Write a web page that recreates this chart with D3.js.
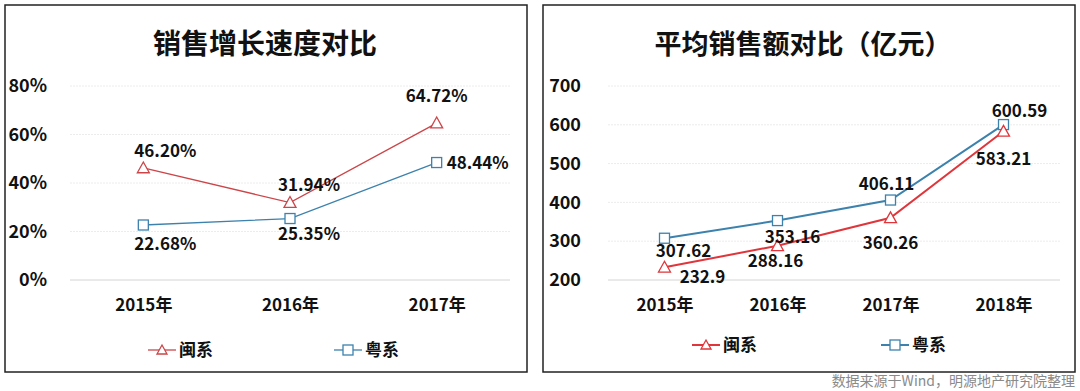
<!DOCTYPE html>
<html>
<head>
<meta charset="utf-8">
<script src="https://cdn.jsdelivr.net/npm/d3@7"></script>
<style>
  body { margin: 0; background: #fff; }
  svg { display: block; font-family: "Noto Sans CJK SC", "Noto Sans", sans-serif; }
</style>
</head>
<body>
<script>
// left chart data
const yearsA = ['2015年', '2016年', '2017年']
const minA = [46.20, 31.94, 64.72]
const yueA = [22.68, 25.35, 48.44]
const ticksA = [0, 20, 40, 60, 80]

// right chart data
const yearsB = ['2015年', '2016年', '2017年', '2018年']
const minB = [232.9, 288.16, 360.26, 583.21]
const yueB = [307.62, 353.16, 406.11, 600.59]
const ticksB = [200, 300, 400, 500, 600, 700]

const seriesNames = ['闽系', '粤系']

const w = 1080
const h = 391
const blue = '#3c82ad'

const svg = d3.select('body').append('svg')
  .attr('width', w)
  .attr('height', h)

function trianglePath (x, y, s) {
  return `M${x},${y - s}L${x + s},${y + s * 0.8}L${x - s},${y + s * 0.8}Z`
}

function drawPanel (cfg) {
  const g = svg.append('g')

  g.append('rect')
    .attr('x', cfg.box[0]).attr('y', cfg.box[1])
    .attr('width', cfg.box[2]).attr('height', cfg.box[3])
    .attr('fill', '#fff').attr('stroke', '#222').attr('stroke-width', 1.5)

  g.append('text')
    .attr('x', cfg.titleX).attr('y', 54)
    .attr('text-anchor', 'middle')
    .attr('font-size', cfg.titleSize).attr('font-weight', 700)
    .attr('fill', '#111')
    .text(cfg.title)

  const x = d3.scalePoint().domain(cfg.years).range(cfg.xr).padding(0.5)
  const y = d3.scaleLinear().domain(cfg.ydom).range([280, 86])

  // grid
  g.selectAll('.grid')
    .data(cfg.ticks)
    .enter().append('line')
    .attr('x1', cfg.xr[0]).attr('x2', cfg.xr[1])
    .attr('y1', d => y(d)).attr('y2', d => y(d))
    .attr('stroke', (d, i) => i === 0 ? '#d4d4d4' : '#ececec')
    .attr('stroke-width', 1)
    .attr('stroke-dasharray', (d, i) => i === 0 ? null : '2,1')

  const yAxis = d3.axisLeft(y).tickValues(cfg.ticks).tickSize(0).tickFormat(cfg.fmt)
  g.append('g')
    .attr('transform', `translate(${cfg.yLabelX}, 0)`)
    .call(yAxis)
    .call(a => a.select('.domain').remove())
    .selectAll('text')
    .attr('font-size', 18).attr('font-weight', 700).attr('fill', '#111')
    .attr('font-family', '"Noto Sans CJK SC", sans-serif')

  const xAxis = d3.axisBottom(x).tickSize(0)
  g.append('g')
    .attr('transform', 'translate(0, 296)')
    .call(xAxis)
    .call(a => a.select('.domain').remove())
    .selectAll('text')
    .attr('font-size', 17).attr('font-weight', 700).attr('fill', '#111')
    .attr('font-family', '"Noto Sans CJK SC", sans-serif')

  const line = d3.line().x((d, i) => x(cfg.years[i])).y(d => y(d))

  // blue series
  g.append('path').datum(cfg.yue)
    .attr('d', line).attr('fill', 'none')
    .attr('stroke', blue).attr('stroke-width', cfg.lw)
  // red series
  g.append('path').datum(cfg.min)
    .attr('d', line).attr('fill', 'none')
    .attr('stroke', cfg.red).attr('stroke-width', cfg.lw)

  g.selectAll('.sq').data(cfg.yue).enter().append('rect')
    .attr('x', (d, i) => x(cfg.years[i]) - 5).attr('y', d => y(d) - 5)
    .attr('width', 10).attr('height', 10)
    .attr('fill', '#fff').attr('stroke', blue).attr('stroke-width', 1.3)

  g.selectAll('.tri').data(cfg.min).enter().append('path')
    .attr('d', (d, i) => trianglePath(x(cfg.years[i]), y(d), 6))
    .attr('fill', '#fff').attr('stroke', cfg.red).attr('stroke-width', 1.3)

  // data labels
  const lab = (vals, offs) => {
    g.selectAll(null).data(vals).enter().append('text')
      .attr('x', (d, i) => x(cfg.years[i]) + offs[i][0])
      .attr('y', (d, i) => y(d) + offs[i][1])
      .attr('text-anchor', (d, i) => offs[i][2] || 'middle')
      .attr('font-size', 17).attr('font-weight', 700).attr('fill', '#111')
      .text(d => cfg.lfmt(d))
  }
  lab(cfg.min, cfg.minOff)
  lab(cfg.yue, cfg.yueOff)

  // legend
  const leg = [
    { name: seriesNames[0], x: cfg.legX[0], color: cfg.red, shape: 'tri' },
    { name: seriesNames[1], x: cfg.legX[1], color: blue, shape: 'sq' }
  ]
  leg.forEach(d => {
    const ly = cfg.legY
    g.append('line').attr('x1', d.x).attr('x2', d.x + 28)
      .attr('y1', ly).attr('y2', ly)
      .attr('stroke', d.color).attr('stroke-width', cfg.lw)
    if (d.shape === 'tri') {
      g.append('path').attr('d', trianglePath(d.x + 14, ly, 5))
        .attr('fill', '#fff').attr('stroke', d.color).attr('stroke-width', 1.3)
    } else {
      g.append('rect').attr('x', d.x + 9).attr('y', ly - 5)
        .attr('width', 10).attr('height', 10)
        .attr('fill', '#fff').attr('stroke', d.color).attr('stroke-width', 1.3)
    }
    g.append('text').attr('x', d.x + 31).attr('y', ly + 6)
      .attr('font-size', 17).attr('font-weight', 700).attr('fill', '#111')
      .text(d.name)
  })
}

drawPanel({
  box: [5, 5, 522, 367],
  title: '销售增长速度对比',
  titleX: 265,
  titleSize: 28,
  years: yearsA,
  min: minA,
  yue: yueA,
  ticks: ticksA,
  ydom: [0, 80],
  xr: [70, 510],
  yLabelX: 50,
  fmt: d => d + '%',
  lfmt: d => d.toFixed(2) + '%',
  red: '#cc4548',
  lw: 1.3,
  minOff: [[22, -11], [19, -12], [0, -21]],
  yueOff: [[22, 25], [19, 21], [10, 6, 'start']],
  legX: [148, 334],
  legY: 350
})

drawPanel({
  box: [543, 5, 532, 367],
  title: '平均销售额对比（亿元）',
  titleX: 803,
  titleSize: 27,
  years: yearsB,
  min: minB,
  yue: yueB,
  ticks: ticksB,
  ydom: [200, 700],
  xr: [608, 1060],
  yLabelX: 584,
  fmt: d => d,
  lfmt: d => String(d),
  red: '#e0353a',
  lw: 2,
  minOff: [[38, 16], [-2, 21], [0, 31], [0, 34]],
  yueOff: [[19, 19], [15, 22], [-4, -10], [16, -8]],
  legX: [692, 881],
  legY: 345
})

svg.append('text')
  .attr('x', 1075).attr('y', 386)
  .attr('text-anchor', 'end')
  .attr('font-size', 14).attr('fill', '#8a8a8a')
  .text('数据来源于Wind，明源地产研究院整理')
</script>
</body>
</html>
